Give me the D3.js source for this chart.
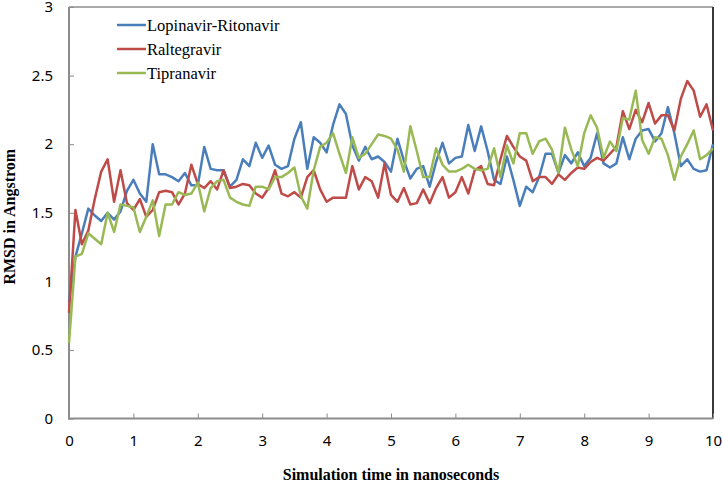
<!DOCTYPE html>
<html>
<head>
<meta charset="utf-8">
<script src="https://cdn.jsdelivr.net/npm/d3@7"></script>
<style>
  html, body { margin: 0; padding: 0; background: #fff; }
  svg { display: block; }
</style>
</head>
<body>
<svg id="chart" width="722" height="484"></svg>
<script>
// ---- data (RMSD in Angstrom, sampled every 0.1 ns from 0 to 10 ns) ----
const seriesNames = ["Lopinavir-Ritonavir", "Raltegravir", "Tipranavir"];
const seriesColors = ["#4a7ebb", "#be4b48", "#98b954"];
const timeStep = 0.1;
const lopinavir = [0.85,1.18,1.35,1.53,1.48,1.44,1.50,1.45,1.51,1.66,1.74,1.64,1.58,2.00,1.78,1.78,1.76,1.73,1.79,1.70,
  1.70,1.98,1.82,1.81,1.81,1.69,1.74,1.89,1.84,2.01,1.90,1.99,1.85,1.82,1.84,2.04,2.16,1.82,2.05,2.01,
  1.94,2.14,2.29,2.22,1.99,1.88,1.98,1.89,1.91,1.87,1.80,2.04,1.88,1.75,1.82,1.84,1.69,1.87,2.01,1.86,
  1.90,1.91,2.14,1.95,2.13,1.95,1.74,1.71,1.91,1.74,1.55,1.69,1.65,1.76,1.93,1.93,1.79,1.92,1.86,1.94,
  1.84,1.90,2.08,1.86,1.83,1.86,2.05,1.89,2.04,2.10,2.11,2.02,2.08,2.27,2.08,1.84,1.89,1.82,1.80,1.81,2.00];
const raltegravir = [0.77,1.52,1.27,1.37,1.60,1.80,1.89,1.58,1.81,1.57,1.52,1.60,1.47,1.52,1.65,1.66,1.65,1.56,1.64,1.85,
  1.71,1.68,1.73,1.67,1.81,1.68,1.69,1.71,1.70,1.64,1.61,1.68,1.81,1.64,1.62,1.65,1.61,1.76,1.81,1.67,
  1.58,1.61,1.61,1.61,1.84,1.67,1.76,1.73,1.61,1.86,1.63,1.58,1.68,1.56,1.57,1.67,1.57,1.68,1.76,1.61,
  1.65,1.76,1.64,1.81,1.84,1.71,1.70,1.89,2.06,1.98,1.91,1.88,1.73,1.76,1.76,1.71,1.78,1.74,1.79,1.83,
  1.82,1.87,1.90,1.88,1.93,1.98,2.24,2.11,2.25,2.16,2.30,2.15,2.21,2.21,2.10,2.33,2.46,2.39,2.20,2.29,2.10];
const tipranavir = [0.55,1.18,1.20,1.35,1.31,1.27,1.50,1.36,1.56,1.55,1.54,1.36,1.47,1.59,1.33,1.56,1.56,1.65,1.63,1.64,
  1.72,1.51,1.68,1.73,1.74,1.61,1.58,1.56,1.55,1.69,1.69,1.67,1.76,1.76,1.79,1.83,1.62,1.53,1.81,1.98,
  2.01,2.08,1.93,1.79,2.05,1.90,1.93,2.00,2.07,2.06,2.04,1.96,1.80,2.13,1.95,1.76,1.76,1.97,1.85,1.80,
  1.80,1.82,1.85,1.82,1.81,1.82,1.97,1.76,1.99,1.86,2.08,2.08,1.93,2.02,2.04,1.96,1.79,2.12,1.96,1.84,
  2.08,2.21,2.12,1.90,2.02,1.95,2.19,2.18,2.39,2.03,1.93,2.05,2.04,1.92,1.74,1.91,2.00,2.10,1.89,1.92,1.97];
const xTicks = [0,1,2,3,4,5,6,7,8,9,10];
const yTicks = [0,0.5,1,1.5,2,2.5,3];
const xLabel = "Simulation time in nanoseconds";
const yLabel = "RMSD in Angstrom";

// ---- layout ----
const svg = d3.select("#chart");
const pLeft = 69, pRight = 713, pTop = 7, pBottom = 418.5;
const x = d3.scaleLinear().domain([0, 10]).range([pLeft, pRight]);
const y = d3.scaleLinear().domain([0, 3]).range([pBottom, pTop]);
const tickFont = "'Noto Sans', 'Open Sans', sans-serif";
const serif = "'Liberation Serif', 'Times New Roman', serif";
const axisGray = "#8c8c8c";

// plot frame: top and right border
svg.append("line").attr("x1", pLeft).attr("x2", pRight).attr("y1", pTop).attr("y2", pTop)
  .attr("stroke", "#555").attr("stroke-width", 1);
svg.append("line").attr("x1", pRight).attr("x2", pRight).attr("y1", pTop).attr("y2", pBottom)
  .attr("stroke", "#3a3a3a").attr("stroke-width", 2);

// axes
const xAxis = d3.axisBottom(x).tickValues(xTicks).tickFormat(d3.format("d"))
  .tickSizeInner(-5).tickSizeOuter(0).tickPadding(16.5);
const gx = svg.append("g").attr("transform", `translate(0,${pBottom})`).call(xAxis);
gx.select(".domain").remove();
gx.selectAll(".tick line").attr("stroke", axisGray).attr("stroke-width", 1);
gx.selectAll(".tick text").attr("font-family", tickFont).attr("font-size", 15).attr("fill", "#000");

const yAxis = d3.axisLeft(y).tickValues(yTicks).tickFormat(d => String(d))
  .tickSizeInner(-5).tickSizeOuter(0).tickPadding(16);
const gy = svg.append("g").attr("transform", `translate(${pLeft},0)`).call(yAxis);
gy.select(".domain").remove();
gy.selectAll(".tick line").attr("stroke", axisGray).attr("stroke-width", 1);
gy.selectAll(".tick text").attr("font-family", tickFont).attr("font-size", 15).attr("fill", "#000");

// axis lines (left and bottom)
svg.append("line").attr("x1", pLeft).attr("x2", pLeft).attr("y1", pTop).attr("y2", pBottom + 1)
  .attr("stroke", axisGray).attr("stroke-width", 2);
svg.append("line").attr("x1", pLeft - 1).attr("x2", pRight).attr("y1", pBottom).attr("y2", pBottom)
  .attr("stroke", axisGray).attr("stroke-width", 2);

// series lines
const allSeries = [lopinavir, raltegravir, tipranavir];
const line = d3.line().x((d, i) => x(i * timeStep)).y(d => y(d));
allSeries.forEach((vals, k) => {
  svg.append("path").datum(vals)
    .attr("fill", "none").attr("stroke", seriesColors[k]).attr("stroke-width", 2.5)
    .attr("stroke-linejoin", "round").attr("d", line);
});

// legend
const legendY = [25, 49, 73];
seriesNames.forEach((name, k) => {
  svg.append("line").attr("x1", 117).attr("x2", 146).attr("y1", legendY[k]).attr("y2", legendY[k])
    .attr("stroke", seriesColors[k]).attr("stroke-width", 2.5);
  svg.append("text").attr("x", 147).attr("y", legendY[k] + 6)
    .attr("font-family", serif).attr("font-size", 16.5).attr("fill", "#000").text(name);
});

// axis titles
svg.append("text").attr("x", (pLeft + pRight) / 2).attr("y", 480).attr("text-anchor", "middle")
  .attr("font-family", serif).attr("font-weight", "bold").attr("font-size", 16).text(xLabel);
svg.append("text").attr("transform", `translate(15,${(pTop + pBottom) / 2 + 4}) rotate(-90)`)
  .attr("text-anchor", "middle")
  .attr("font-family", serif).attr("font-weight", "bold").attr("font-size", 16).text(yLabel);
</script>
</body>
</html>
